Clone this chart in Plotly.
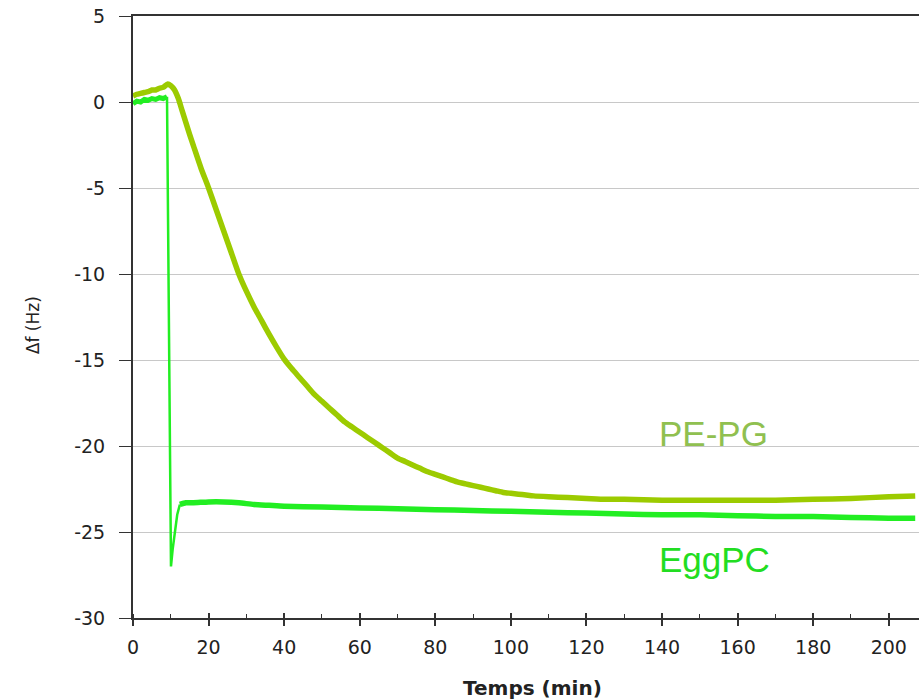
import plotly.graph_objects as go

# PE-PG trace (time in min, delta f in Hz)
pepg_t = [0, 1, 2, 3, 4, 5, 6, 7, 8, 9.2, 10, 11, 12, 13, 14, 15, 16, 18, 20, 22, 24, 26, 28,
          30, 32, 34, 36, 38, 40, 42, 44, 46, 48, 50, 52, 54, 56, 58, 60, 62, 64, 66, 68, 70,
          72, 74, 76, 78, 80, 82, 84, 86, 88, 90, 92, 94, 96, 98, 100, 102, 104, 106, 110,
          115, 120, 125, 130, 140, 150, 160, 170, 180, 190, 200, 207]
pepg_f = [0.35, 0.45, 0.5, 0.55, 0.6, 0.7, 0.7, 0.8, 0.85, 1.05, 0.95, 0.7, 0.2, -0.5, -1.2,
          -1.9, -2.55, -3.85, -5.0, -6.25, -7.5, -8.75, -10.0, -11.0, -11.9, -12.7, -13.5,
          -14.25, -14.95, -15.5, -16.0, -16.5, -17.0, -17.4, -17.8, -18.2, -18.6, -18.9,
          -19.2, -19.5, -19.8, -20.1, -20.4, -20.7, -20.9, -21.1, -21.3, -21.5, -21.65,
          -21.8, -21.95, -22.1, -22.2, -22.3, -22.4, -22.5, -22.6, -22.7, -22.75, -22.8,
          -22.85, -22.9, -22.95, -23.0, -23.05, -23.1, -23.1, -23.15, -23.15, -23.15,
          -23.15, -23.1, -23.05, -22.95, -22.9]

# EggPC trace
egg_t = [0, 1, 2, 3, 4, 5, 6, 7, 8, 9.0, 9.9, 10.05, 10.5, 11.1, 11.7, 12.4, 14, 16, 20, 24,
         28, 32, 36, 40, 50, 60, 70, 80, 90, 100, 110, 120, 130, 140, 150, 160, 170, 180,
         190, 200, 207]
egg_f = [-0.1, 0.05, 0.0, 0.15, 0.1, 0.2, 0.15, 0.25, 0.2, 0.3, -26.5, -27.0, -26.0, -25.0,
         -24.0, -23.4, -23.3, -23.3, -23.25, -23.25, -23.3, -23.4, -23.45, -23.5, -23.55,
         -23.6, -23.65, -23.7, -23.75, -23.8, -23.85, -23.9, -23.95, -24.0, -24.0, -24.05,
         -24.1, -24.1, -24.15, -24.2, -24.2]

x_ticks = [0, 20, 40, 60, 80, 100, 120, 140, 160, 180, 200]
y_ticks = [5, 0, -5, -10, -15, -20, -25, -30]
y_tick_text = ["5", "0", "-5", "-10", "-15", "-20", "-25", "-30"]

FONT = "DejaVu Sans, sans-serif"
EGG_COLOR = "#22EE22"
PEPG_COLOR = "#9CCB00"

# split the EggPC series into plateau / injection drop / plateau parts
i_drop0, i_drop1 = 9, 15

fig = go.Figure()
fig.add_trace(go.Scatter(x=egg_t[:i_drop0 + 1], y=egg_f[:i_drop0 + 1], mode="lines",
                         line=dict(color=EGG_COLOR, width=5)))
fig.add_trace(go.Scatter(x=egg_t[i_drop0:i_drop1 + 1], y=egg_f[i_drop0:i_drop1 + 1],
                         mode="lines", line=dict(color=EGG_COLOR, width=2.5)))
fig.add_trace(go.Scatter(x=egg_t[i_drop1:], y=egg_f[i_drop1:], mode="lines",
                         line=dict(color=EGG_COLOR, width=5.5, shape="spline", smoothing=0.6)))
fig.add_trace(go.Scatter(x=pepg_t, y=pepg_f, mode="lines", name="PE-PG",
                         line=dict(color=PEPG_COLOR, width=5.5, shape="spline", smoothing=0.6)))
# overlay axis for the inner half of the cross ticks
fig.add_trace(go.Scatter(x=[0], y=[0], xaxis="x2", mode="markers",
                         marker=dict(opacity=0), showlegend=False, hoverinfo="skip"))

fig.update_layout(
    width=919, height=700,
    margin=dict(l=133, r=0, t=16, b=82, autoexpand=False),
    plot_bgcolor="white", paper_bgcolor="white",
    showlegend=False,
    font=dict(family=FONT, color="#222222"),
    xaxis=dict(range=[0, 208], tickvals=x_ticks, ticks="outside", ticklen=6,
               tickwidth=1.5, tickcolor="#333333", showline=True, linecolor="#333333",
               linewidth=1.5, mirror=True, showgrid=False, zeroline=False, automargin=False,
               ticklabelstandoff=5,
               tickfont=dict(size=19, family=FONT, color="#222222"),
               minor=dict(dtick=10, ticks="inside", ticklen=4, tickcolor="#333333",
                          tickwidth=1.2, showgrid=False)),
    xaxis2=dict(range=[0, 208], overlaying="x", side="bottom", tickvals=x_ticks,
                ticks="inside", ticklen=5, tickwidth=1.5, tickcolor="#333333",
                showticklabels=False, showgrid=False, zeroline=False, showline=False,
                automargin=False),
    yaxis=dict(range=[-30, 5], tickvals=y_ticks, ticktext=y_tick_text, ticks="outside",
               ticklen=12, tickwidth=1.2, tickcolor="#333333", showline=True,
               linecolor="#333333", linewidth=2, showgrid=True, gridcolor="#C8C8C8",
               gridwidth=1, zeroline=False, automargin=False, ticklabelstandoff=10,
               ticklabeloverflow="allow",
               tickfont=dict(size=19, family=FONT, color="#222222")),
    annotations=[
        dict(text="<b>Temps (min)</b>", xref="paper", yref="paper", x=0.508, y=-0.116,
             showarrow=False, font=dict(size=20, family=FONT, color="#222222"),
             xanchor="center", yanchor="middle"),
        dict(text="Δf (Hz)", xref="paper", yref="paper", x=-0.128, y=0.487,
             showarrow=False, textangle=-90, font=dict(size=17, family=FONT, color="#222222"),
             xanchor="center", yanchor="middle"),
        dict(text="PE-PG", x=153.7, y=-19.3, showarrow=False,
             font=dict(size=35, family="Arial, Liberation Sans, sans-serif", color="#90C050"),
             xanchor="center", yanchor="middle"),
        dict(text="EggPC", x=154, y=-26.6, showarrow=False,
             font=dict(size=35, family="Arial, Liberation Sans, sans-serif", color="#22DD22"),
             xanchor="center", yanchor="middle"),
    ],
)

# remove the browser's default 8 px body margin so the figure sits at the page origin
fig.write_html("out.html", config={"displayModeBar": False},
               post_script="document.body.style.margin='0';")
